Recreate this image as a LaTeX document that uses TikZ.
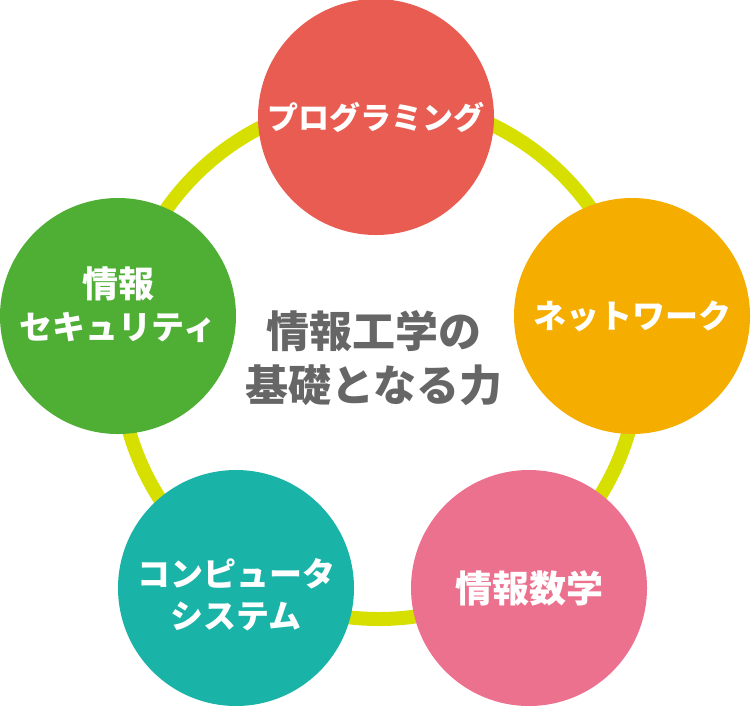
\documentclass[tikz,border=0pt]{standalone}
\usepackage{fontspec}
\setmainfont{Noto Sans CJK JP}
\definecolor{ProgRed}{HTML}{E95C52}
\definecolor{NetOrange}{HTML}{F5AD00}
\definecolor{MathPink}{HTML}{EC718E}
\definecolor{SysTeal}{HTML}{1AB3A8}
\definecolor{SecGreen}{HTML}{4FAF35}
\definecolor{RingLime}{HTML}{D6DF00}
\definecolor{CoreGray}{HTML}{666666}
\begin{document}
\begin{tikzpicture}[
      x=1pt,y=-1pt,
      skill/.style ={circle,fill=#1,minimum size=236pt,inner sep=0pt,
                     text=white,align=center,font=\bfseries\fontsize{33}{42}\selectfont},
      skill/.default=ProgRed,
      skilltext/.style ={text=white,align=center,font=\bfseries\fontsize{33}{42}\selectfont}]
    \useasboundingbox (0,0) rectangle (751,705);
    \coordinate (hub) at (379,359);
    \draw[RingLime,line width=14pt] (hub) circle [radius=260pt];
    \node[skill=ProgRed,font=\bfseries\fontsize{31}{42}\selectfont] (prog) at (376,117) {プログラミング};
    \node[skill=NetOrange] (net) at (632,316) {ネットワーク};
    \node[skill=MathPink,font=\bfseries\fontsize{37}{42}\selectfont] (math) at (529,588) {情報数学};
    \node[skill=SysTeal,label={[skilltext,yshift=-7pt]center:コンピュータ\\システム}] (sys) at (236,588) {};
    \node[skill=SecGreen,label={[skilltext,yshift=11pt]center:{\fontsize{36}{42}\selectfont 情報}\\セキュリティ}] (sec) at (118,316) {};
    \node[text=CoreGray,align=center,font=\bfseries\fontsize{43}{54}\selectfont] (core) at (374,358) {情報工学の\\基礎となる力};
    \end{tikzpicture}
\end{document}
